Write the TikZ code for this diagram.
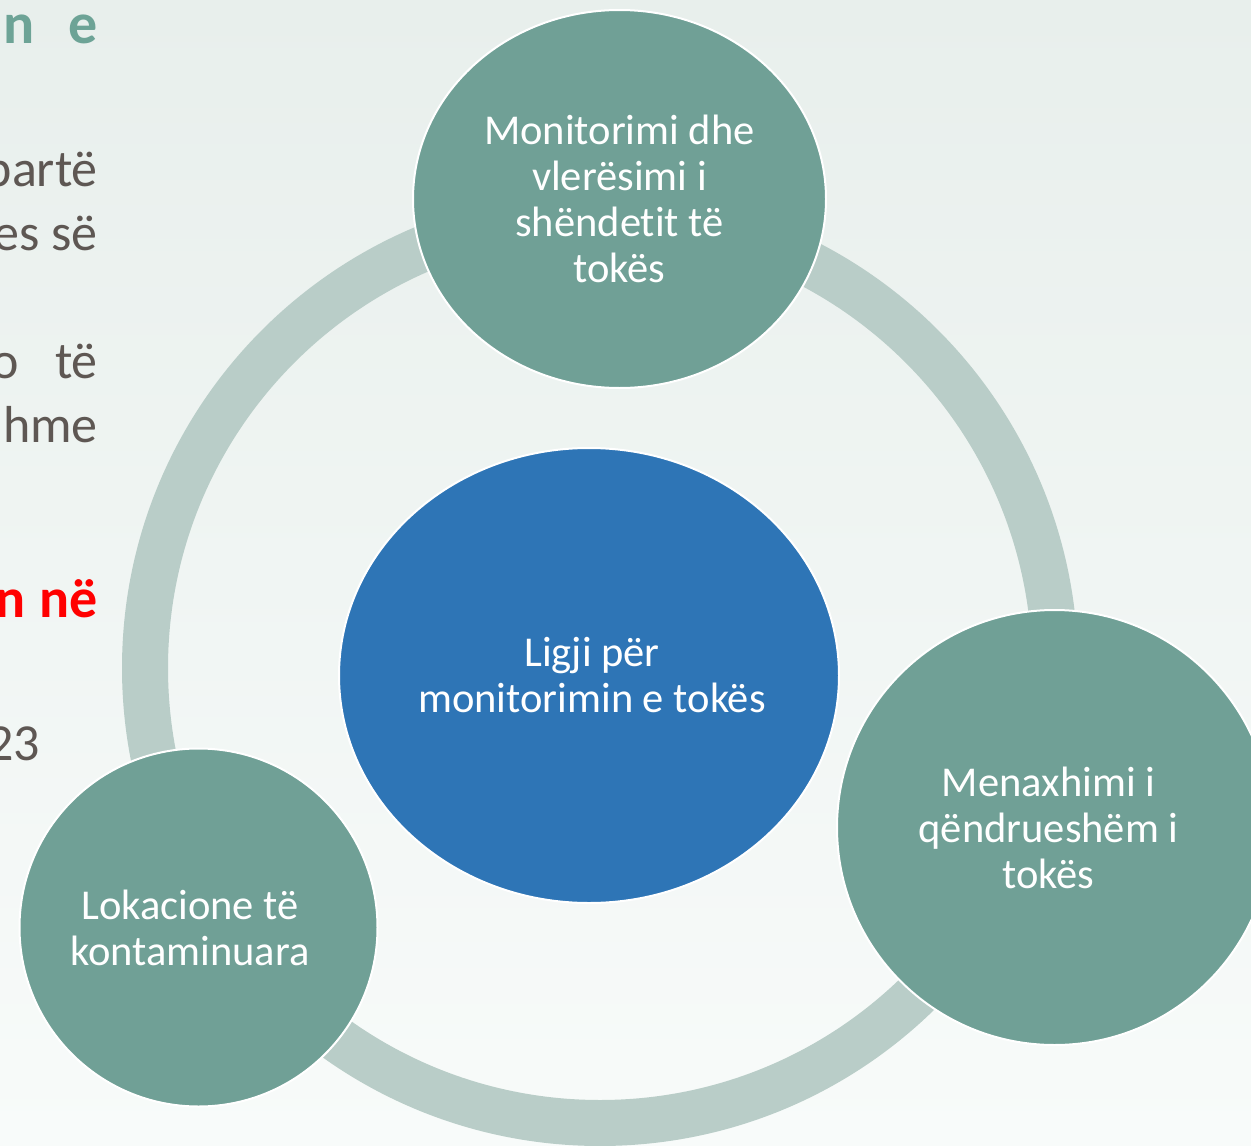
\documentclass[tikz,border=0pt]{standalone}
\usepackage{fontspec}
\setmainfont{Carlito}[Ligatures={NoCommon}]
\usetikzlibrary{shapes.geometric}
\definecolor{bgtop}{HTML}{E8EFEC}
\definecolor{bgbot}{HTML}{F8FBFA}
\definecolor{ringc}{HTML}{B9CDC8}
\definecolor{greenc}{HTML}{70A096}
\definecolor{bluec}{HTML}{2E75B6}
\definecolor{grayt}{HTML}{5E5753}
\definecolor{tealt}{HTML}{6DA396}
\tikzset{
  bubble/.style={ellipse, fill=greenc, draw=white, line width=2pt, inner sep=0pt},
  hub/.style={bubble, fill=bluec},
  bubtext/.style={inner sep=0pt, text=white, align=center, font=\fontsize{42.5}{46}\selectfont},
  ringstyle/.style={draw=ringc, line width=46pt},
  sidetext/.style={anchor=base east, inner sep=0pt, text=grayt, font=\fontsize{52}{64}\selectfont},
}
\begin{document}
\begin{tikzpicture}[x=1pt,y=-1pt]
\useasboundingbox (0,0) rectangle (1251,1146);
\shade[top color=bgtop, bottom color=bgbot] (0,0) rectangle (1251,1146);
% left, cut-off slide text
\begin{scope}
\clip (0,0) rectangle (100,1146);
\node[sidetext, text=tealt, font=\fontsize{58}{64}\selectfont\bfseries] (s1) at (98,43) {n\hspace{34pt}e};
\node[sidetext] (s2) at (98,186) {partë};
\node[sidetext] (s3) at (98,250) {es së};
\node[sidetext] (s4) at (98,378) {o\hspace{36pt}të};
\node[sidetext] (s5) at (98,442) {hme};
\node[sidetext, text=red, font=\fontsize{56}{64}\selectfont\bfseries] (s6) at (98,617) {n\hspace{14pt}në};
\node[sidetext] (s7) at (40,760) {23};
\end{scope}
% ring
\coordinate (rc) at (600,668);
\draw[ringstyle] (rc) circle[radius=455];
% shapes
\node[hub, minimum width=500pt, minimum height=455pt] (hub) at (589,675.5) {};
\node[bubble, minimum width=413pt, minimum height=378pt] (top) at (619.5,199) {};
\node[bubble, minimum width=435pt, minimum height=435pt] (right) at (1054.5,827.5) {};
\node[bubble, minimum width=358pt, minimum height=358pt] (left) at (198.5,927.5) {};
% texts
\node[bubtext] (hubt) at ([xshift=3pt]hub.center) {Ligji për\\monitorimin e tokës};
\node[bubtext] (topt) at (top.center) {Monitorimi dhe\\vlerësimi i\\shëndetit të\\tokës};
\node[bubtext] (rightt) at ([xshift=-6pt]right.center) {Menaxhimi i\\qëndrueshëm i\\tokës};
\node[bubtext] (leftt) at ([xshift=-8.5pt]left.center) {Lokacione të\\kontaminuara};
\end{tikzpicture}
\end{document}
